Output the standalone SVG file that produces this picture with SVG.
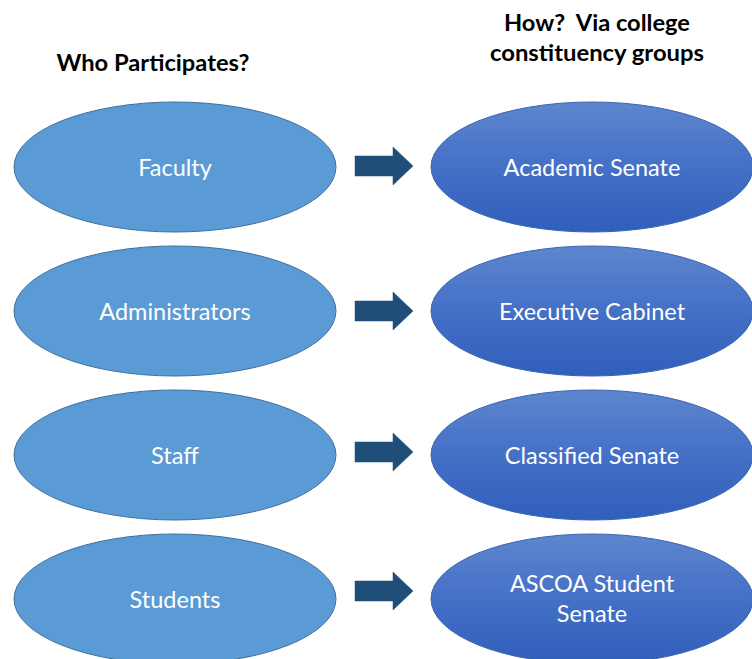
<svg xmlns="http://www.w3.org/2000/svg" width="752" height="659" viewBox="0 0 752 659">
<style>
.l{fill:#5B9BD5;stroke:#41719C;stroke-width:1}
.r{fill:url(#g);stroke:#3A66B0;stroke-width:1}
.a{fill:#1F4E79;stroke:#1F4E79;stroke-width:0.5}
.t{font-family:Lato,"Liberation Sans",sans-serif;font-size:23.5px;fill:#fff;text-anchor:middle;dominant-baseline:central}
.h{font-family:Lato,"Liberation Sans",sans-serif;font-size:23px;font-weight:bold;fill:#000;text-anchor:middle;dominant-baseline:central}
</style>
<defs>
<linearGradient id="g" x1="0" y1="0" x2="0" y2="1">
<stop offset="0" stop-color="#5E86CE"/>
<stop offset="0.5" stop-color="#4470C6"/>
<stop offset="1" stop-color="#305FBC"/>
</linearGradient>
</defs>
<rect width="752" height="659" fill="#fff"/>
<g id="titles">
<text class="h" x="153" y="62" textLength="193" lengthAdjust="spacingAndGlyphs">Who Participates?</text>
<text class="h" x="597" y="22" xml:space="preserve" textLength="186" lengthAdjust="spacingAndGlyphs">How?  Via college</text>
<text class="h" x="597" y="52" textLength="214" lengthAdjust="spacingAndGlyphs">constituency groups</text>
</g>
<g id="faculty"><ellipse class="l" cx="175" cy="167" rx="161" ry="65"/><text class="t" x="175" y="167">Faculty</text></g>
<g id="administrators"><ellipse class="l" cx="175" cy="311" rx="161" ry="65"/><text class="t" x="175" y="311">Administrators</text></g>
<g id="staff"><ellipse class="l" cx="175" cy="455" rx="161" ry="65"/><text class="t" x="175" y="455">Staff</text></g>
<g id="students"><ellipse class="l" cx="175" cy="599" rx="161" ry="65"/><text class="t" x="175" y="599">Students</text></g>
<g id="academic-senate"><ellipse class="r" cx="592" cy="167" rx="161" ry="65"/><text class="t" x="592" y="167">Academic Senate</text></g>
<g id="executive-cabinet"><ellipse class="r" cx="592" cy="311" rx="161" ry="65"/><text class="t" x="592" y="311">Executive Cabinet</text></g>
<g id="classified-senate"><ellipse class="r" cx="592" cy="455" rx="161" ry="65"/><text class="t" x="592" y="455">Classified Senate</text></g>
<g id="ascoa-student-senate"><ellipse class="r" cx="592" cy="599" rx="161" ry="65"/><text class="t" x="592" y="583">ASCOA Student</text><text class="t" x="592" y="613">Senate</text></g>
<g id="connectors">
<path class="a" d="M355,156H393V147L413,166L393,185V176H355Z"/>
<path class="a" d="M355,301H393V292L413,311L393,330V321H355Z"/>
<path class="a" d="M355,442H393V433L413,452L393,471V462H355Z"/>
<path class="a" d="M355,581H393V572L413,591L393,610V601H355Z"/>
</g>
</svg>
